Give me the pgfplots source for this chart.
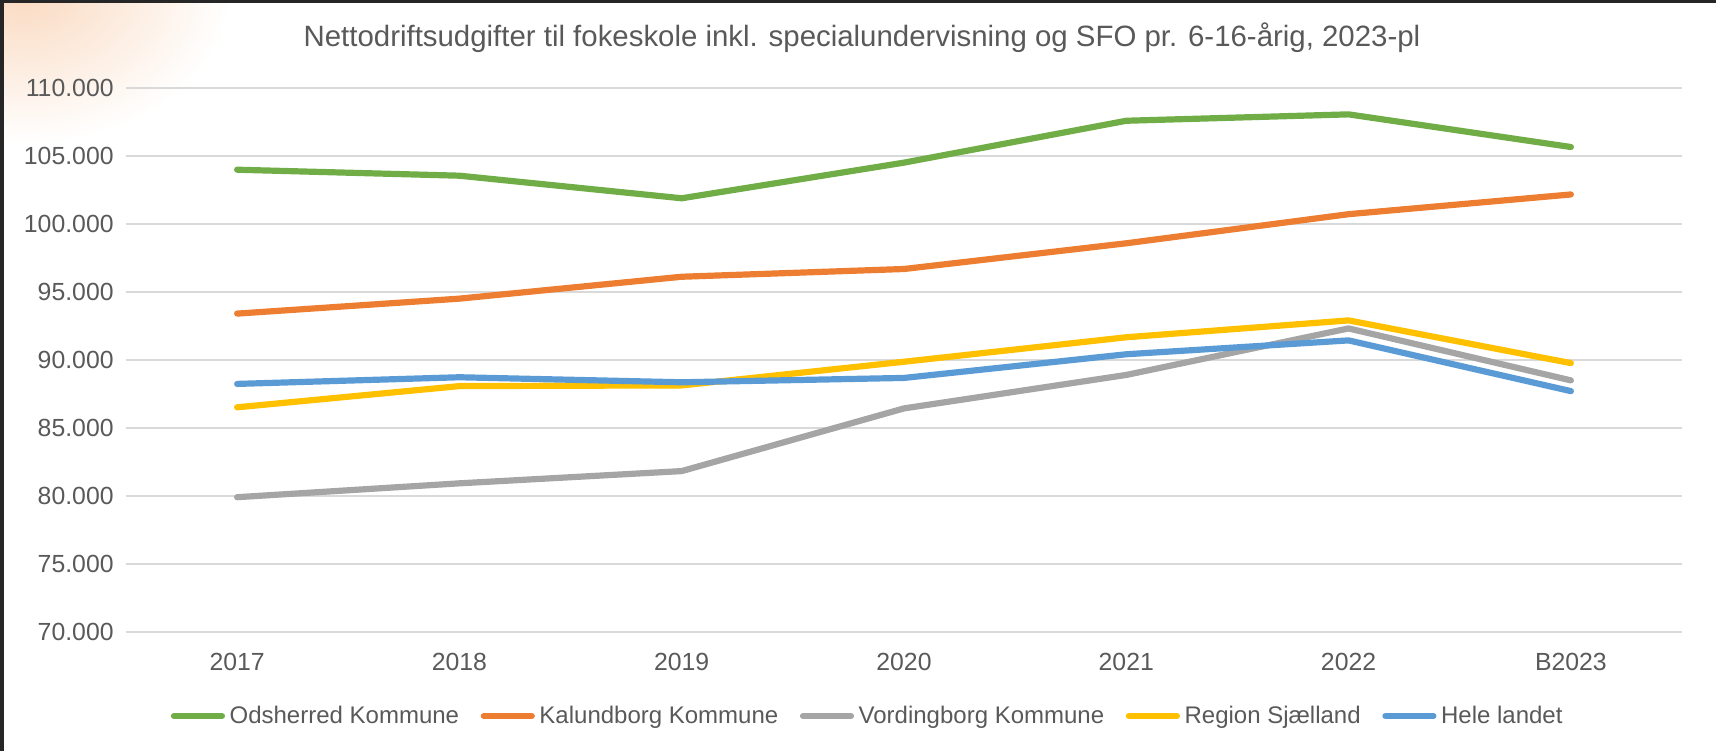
\documentclass[border=0pt]{standalone}
\usepackage{pgfplots}
\pgfplotsset{compat=1.18}
\usepackage{fontspec}
\setmainfont{Liberation Sans}
\definecolor{cgreen}{HTML}{70AD47}
\definecolor{corange}{HTML}{ED7D31}
\definecolor{cgray}{HTML}{A5A5A5}
\definecolor{cyellow}{HTML}{FFC000}
\definecolor{cblue}{HTML}{5B9BD5}
\definecolor{txt}{HTML}{595959}
\definecolor{gridc}{HTML}{D9D9D9}
\definecolor{framec}{HTML}{262626}
\definecolor{peach}{HTML}{FAD9BF}
\begin{document}
\begin{tikzpicture}
\useasboundingbox (-63pt,-59.65pt) rectangle (795pt,315.85pt);
\begin{scope}
\clip (-63pt,-59.65pt) rectangle (795pt,315.85pt);
\shade[inner color=peach, outer color=white] (-52pt,322pt) ellipse (105pt and 78pt);
\end{scope}
\begin{axis}[
  scale only axis,
  width=778pt, height=272pt,
  xmin=-0.5, xmax=6.5,
  ymin=70000, ymax=110000,
  xtick={0,1,2,3,4,5,6},
  xticklabels={2017,2018,2019,2020,2021,2022,B2023},
  ytick={70000,75000,80000,85000,90000,95000,100000,105000,110000},
  scaled y ticks=false,
  /pgf/number format/fixed,
  /pgf/number format/1000 sep={.},
  /pgf/number format/assume math mode=true,
  axis line style={draw=none},
  major tick length=0pt,
  ymajorgrids=true, xmajorgrids=false,
  y grid style={draw=gridc, line width=1pt},
  ticklabel style={font=\fontsize{12.4}{15}\selectfont, text=txt, inner sep=0pt},
  xticklabel style={anchor=center, yshift=-15.2pt},
  yticklabel style={anchor=east, xshift=-6pt},
  legend columns=5,
  legend style={draw=none, fill=none, font=\fontsize{12.0}{15}\selectfont, text=txt,
    at={(0.4775,-0.155)}, anchor=center,
    nodes={inner sep=2.3pt},
    /tikz/every even column/.append style={column sep=8.5pt}},
  legend cell align=left,
  legend image code/.code={\draw[#1, line cap=round] (0pt,0pt) -- (24pt,0pt);},
  every axis plot/.append style={line width=3.1pt, line join=round, line cap=round},
]
\addplot[cgreen] coordinates {(0,103970) (1,103530) (2,101870) (3,104490) (4,107570) (5,108040) (6,105640)};
\addlegendentry{Odsherred Kommune}
\addplot[corange] coordinates {(0,93390) (1,94490) (2,96100) (3,96670) (4,98560) (5,100700) (6,102150)};
\addlegendentry{Kalundborg Kommune}
\addplot[cgray] coordinates {(0,79890) (1,80910) (2,81810) (3,86420) (4,88880) (5,92300) (6,88480)};
\addlegendentry{Vordingborg Kommune}
\addplot[cyellow] coordinates {(0,86500) (1,88060) (2,88110) (3,89850) (4,91650) (5,92890) (6,89750)};
\addlegendentry{Region Sjælland}
\addplot[cblue] coordinates {(0,88220) (1,88710) (2,88340) (3,88660) (4,90400) (5,91420) (6,87690)};
\addlegendentry{Hele landet}
\end{axis}
\node[text=txt, font=\fontsize{14.7}{17}\selectfont, anchor=center] at (368pt,296.85pt) {Nettodriftsudgifter til fokeskole inkl. specialundervisning og SFO pr. 6-16-årig, 2023-pl};
\draw[framec, line width=1.6pt] (-62pt,-59.65pt) -- (-62pt,315.05pt) -- (795pt,315.05pt);
\end{tikzpicture}
\end{document}
